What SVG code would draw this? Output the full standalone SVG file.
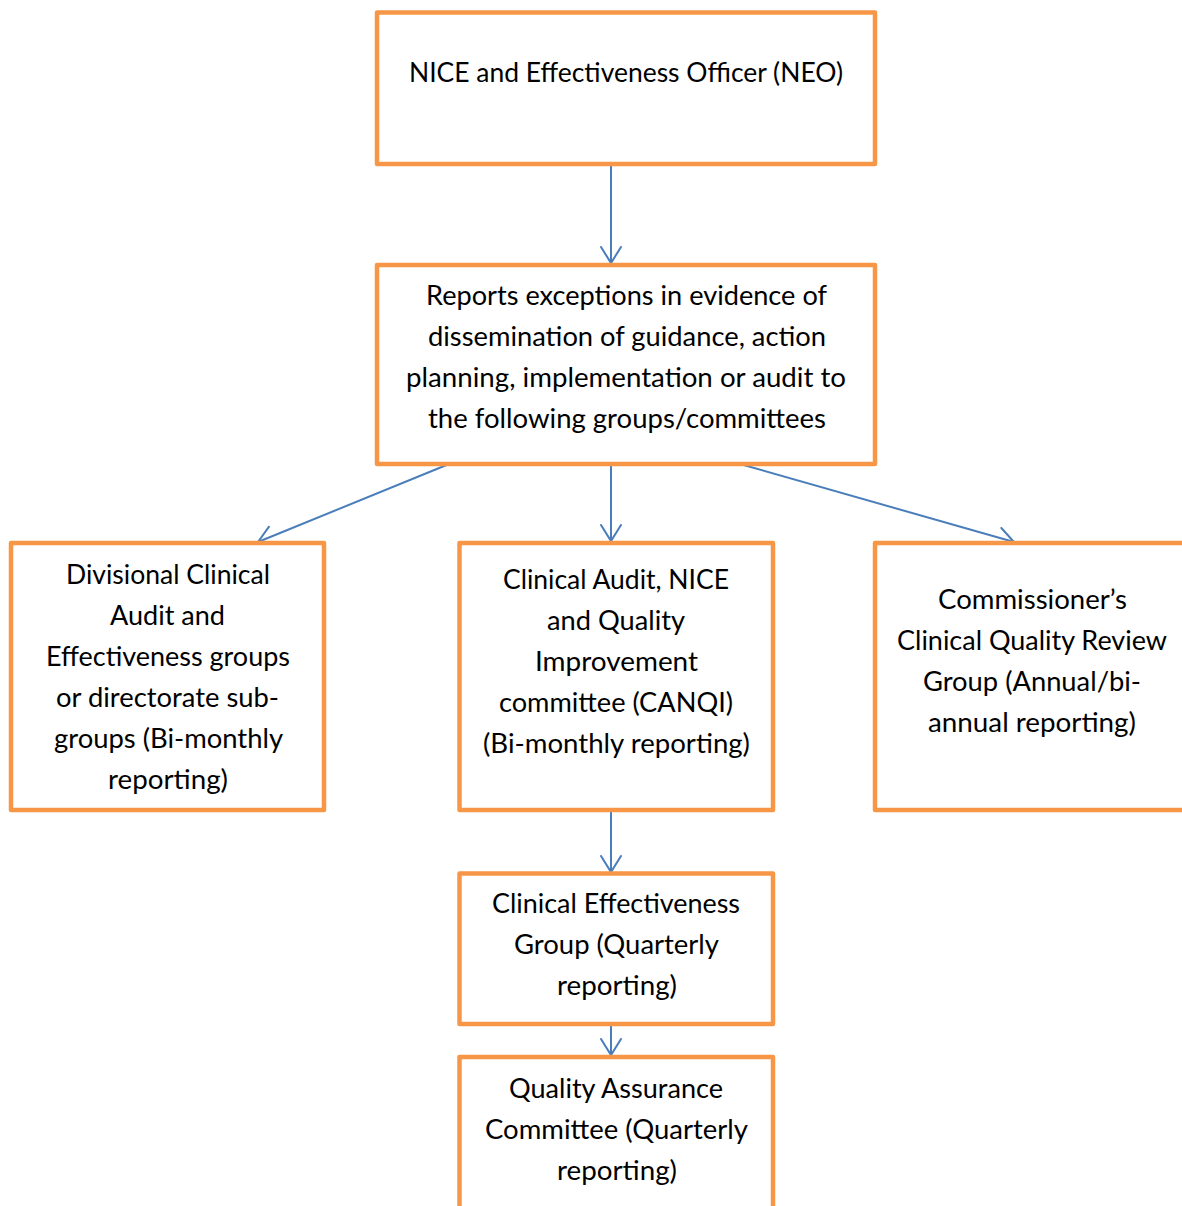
<svg xmlns="http://www.w3.org/2000/svg" width="1182" height="1206" viewBox="0 0 1182 1206">
<defs>
<style>
.box{fill:#fff;stroke:#F79646;stroke-width:4.5;stroke-linejoin:round}
.t{font-family:Lato,"Open Sans","Liberation Sans",sans-serif;font-size:26px;fill:#000;text-anchor:middle}
.c{stroke:#4A7EBB;stroke-width:2;fill:none}
.h{stroke:#4A7EBB;stroke-width:2;fill:none;stroke-linecap:round}
</style>
<marker id="ah" markerWidth="22" markerHeight="24" refX="17" refY="11" orient="auto" markerUnits="userSpaceOnUse">
<path class="h" d="M1,1 L17,11 L1,21"/>
</marker>
</defs>
<rect width="1182" height="1206" fill="#fff"/>
<g id="connectors">
<line class="c" x1="611" y1="166" x2="611" y2="263" marker-end="url(#ah)"/>
<line class="c" x1="449" y1="464" x2="258" y2="542" marker-end="url(#ah)"/>
<line class="c" x1="611" y1="466" x2="611" y2="541" marker-end="url(#ah)"/>
<line class="c" x1="740" y1="464" x2="1014" y2="542" marker-end="url(#ah)"/>
<line class="c" x1="611" y1="812" x2="611" y2="872" marker-end="url(#ah)"/>
<line class="c" x1="611" y1="1026" x2="611" y2="1055" marker-end="url(#ah)"/>
</g>
<g id="neo">
<rect class="box" x="377" y="12.5" width="498" height="151.5"/>
<text class="t" x="626" y="82" textLength="434" lengthAdjust="spacingAndGlyphs">NICE and Effectiveness Officer (NEO)</text>
</g>
<g id="reports">
<rect class="box" x="377" y="265" width="498" height="199"/>
<text class="t" x="626.5" y="305" textLength="401" lengthAdjust="spacingAndGlyphs">Reports exceptions in evidence of</text>
<text class="t" x="627" y="346" textLength="398" lengthAdjust="spacingAndGlyphs">dissemination of guidance, action</text>
<text class="t" x="626" y="387" textLength="440" lengthAdjust="spacingAndGlyphs">planning, implementation or audit to</text>
<text class="t" x="627" y="428" textLength="398" lengthAdjust="spacingAndGlyphs">the following groups/committees</text>
</g>
<g id="divisional">
<rect class="box" x="11" y="543" width="313" height="267"/>
<text class="t" x="168" y="584" textLength="204" lengthAdjust="spacingAndGlyphs">Divisional Clinical</text>
<text class="t" x="167.5" y="625" textLength="115" lengthAdjust="spacingAndGlyphs">Audit and</text>
<text class="t" x="168" y="666" textLength="244" lengthAdjust="spacingAndGlyphs">Effectiveness groups</text>
<text class="t" x="167.5" y="707" textLength="223" lengthAdjust="spacingAndGlyphs">or directorate sub-</text>
<text class="t" x="168.5" y="748" textLength="229" lengthAdjust="spacingAndGlyphs">groups (Bi-monthly</text>
<text class="t" x="168" y="789" textLength="120" lengthAdjust="spacingAndGlyphs">reporting)</text>
</g>
<g id="canqi">
<rect class="box" x="459.5" y="543" width="313.5" height="267"/>
<text class="t" x="616" y="589" textLength="226" lengthAdjust="spacingAndGlyphs">Clinical Audit, NICE</text>
<text class="t" x="616" y="630" textLength="138" lengthAdjust="spacingAndGlyphs">and Quality</text>
<text class="t" x="616.5" y="671" textLength="163" lengthAdjust="spacingAndGlyphs">Improvement</text>
<text class="t" x="616" y="712" textLength="234" lengthAdjust="spacingAndGlyphs">committee (CANQI)</text>
<text class="t" x="616.5" y="753" textLength="267" lengthAdjust="spacingAndGlyphs">(Bi-monthly reporting)</text>
</g>
<g id="commissioner">
<rect class="box" x="875" y="543" width="330" height="267"/>
<text class="t" x="1032.5" y="609" textLength="189" lengthAdjust="spacingAndGlyphs">Commissioner’s</text>
<text class="t" x="1032" y="650" textLength="270" lengthAdjust="spacingAndGlyphs">Clinical Quality Review</text>
<text class="t" x="1032" y="691" textLength="218" lengthAdjust="spacingAndGlyphs">Group (Annual/bi-</text>
<text class="t" x="1032" y="732" textLength="208" lengthAdjust="spacingAndGlyphs">annual reporting)</text>
</g>
<g id="ceg">
<rect class="box" x="459.5" y="873.5" width="313.5" height="150.5"/>
<text class="t" x="616" y="913" textLength="248" lengthAdjust="spacingAndGlyphs">Clinical Effectiveness</text>
<text class="t" x="616.5" y="954" textLength="205" lengthAdjust="spacingAndGlyphs">Group (Quarterly</text>
<text class="t" x="617" y="995" textLength="120" lengthAdjust="spacingAndGlyphs">reporting)</text>
</g>
<g id="qac">
<rect class="box" x="459.5" y="1057" width="313.5" height="170"/>
<text class="t" x="616" y="1098" textLength="214" lengthAdjust="spacingAndGlyphs">Quality Assurance</text>
<text class="t" x="616.5" y="1139" textLength="263" lengthAdjust="spacingAndGlyphs">Committee (Quarterly</text>
<text class="t" x="617" y="1180" textLength="120" lengthAdjust="spacingAndGlyphs">reporting)</text>
</g>
</svg>
